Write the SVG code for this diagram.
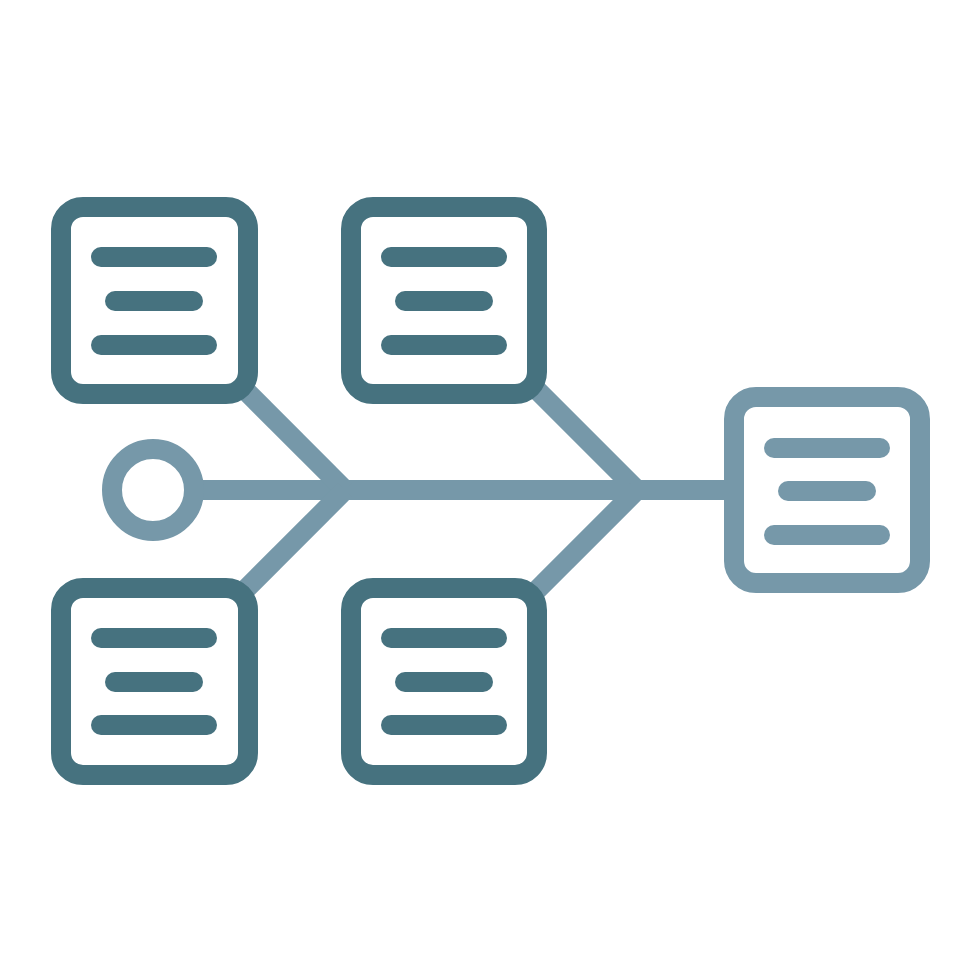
<svg xmlns="http://www.w3.org/2000/svg" width="980" height="980" viewBox="0 0 980 980">
<style>
.box{fill:#ffffff;stroke:#46727f;stroke-width:20}
.ln{stroke:#46727f;stroke-width:20;stroke-linecap:round}
.lbox{fill:#ffffff;stroke:#7698a9;stroke-width:20}
.lln{stroke:#7698a9;stroke-width:20;stroke-linecap:round}
.con{stroke:#7698a9;stroke-width:20;fill:none;stroke-linecap:butt}
</style>
<rect width="980" height="980" fill="#ffffff"/>
<g id="connectors">
<line class="con" x1="194" y1="490" x2="735" y2="490"/>
<line class="con" x1="235" y1="380" x2="345" y2="490"/>
<line class="con" x1="235" y1="600" x2="345" y2="490"/>
<line class="con" x1="527" y1="380" x2="637" y2="490"/>
<line class="con" x1="527" y1="600" x2="637" y2="490"/>
</g>
<g id="start">
<circle cx="153" cy="490" r="41" fill="#ffffff" stroke="#7698a9" stroke-width="20"/>
</g>
<g id="box-top-left">
<rect class="box" x="61" y="207" width="187" height="187" rx="22"/>
<line class="ln" x1="101" y1="257" x2="207" y2="257"/>
<line class="ln" x1="115" y1="301" x2="193" y2="301"/>
<line class="ln" x1="101" y1="345" x2="207" y2="345"/>
</g>
<g id="box-top-mid">
<rect class="box" x="351" y="207" width="186" height="187" rx="22"/>
<line class="ln" x1="391" y1="257" x2="497" y2="257"/>
<line class="ln" x1="405" y1="301" x2="483" y2="301"/>
<line class="ln" x1="391" y1="345" x2="497" y2="345"/>
</g>
<g id="box-bottom-left">
<rect class="box" x="61" y="588" width="187" height="187" rx="22"/>
<line class="ln" x1="101" y1="638" x2="207" y2="638"/>
<line class="ln" x1="115" y1="682" x2="193" y2="682"/>
<line class="ln" x1="101" y1="725" x2="207" y2="725"/>
</g>
<g id="box-bottom-mid">
<rect class="box" x="351" y="588" width="186" height="187" rx="22"/>
<line class="ln" x1="391" y1="638" x2="497" y2="638"/>
<line class="ln" x1="405" y1="682" x2="483" y2="682"/>
<line class="ln" x1="391" y1="725" x2="497" y2="725"/>
</g>
<g id="box-right">
<rect class="lbox" x="734" y="397" width="186" height="186" rx="22"/>
<line class="lln" x1="774" y1="448" x2="880" y2="448"/>
<line class="lln" x1="788" y1="491" x2="866" y2="491"/>
<line class="lln" x1="774" y1="535" x2="880" y2="535"/>
</g>
</svg>
